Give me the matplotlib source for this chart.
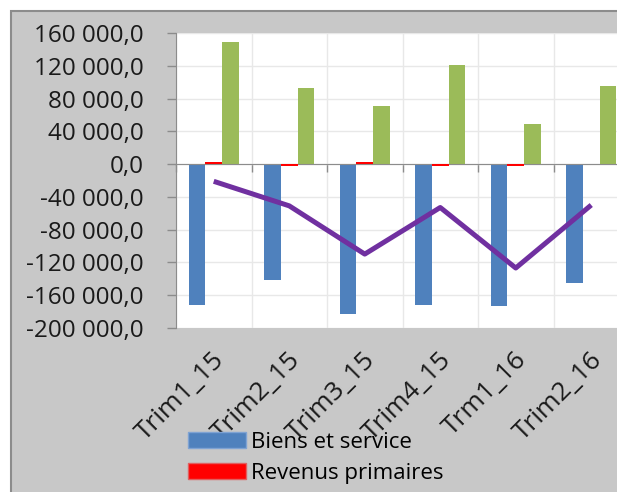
import numpy as np
import matplotlib.pyplot as plt
from matplotlib.patches import Rectangle, Patch
from matplotlib.ticker import FuncFormatter, MultipleLocator
import matplotlib.transforms as mtransforms

plt.rcParams['font.family'] = ['Open Sans', 'DejaVu Sans']

# data
trimestres = ["Trim1_15", "Trim2_15", "Trim3_15", "Trim4_15", "Trm1_16", "Trim2_16"]
biens_services = [-172000, -142000, -183000, -172000, -174000, -145000]
revenus_primaires = [2500, -2500, 2500, -2500, -2500, 500]
revenus_secondaires = [149000, 93000, 71000, 121000, 49000, 95000]
solde = [-21000, -51000, -110000, -53000, -127000, -50000]

blue = "#4F81BD"
red = "#FF0000"
green = "#9BBB59"
purple = "#7030A0"
grey_bg = "#C8C8C8"


def fr_format(v, pos):
    s = "{:,.1f}".format(abs(v)).replace(",", " ").replace(".", ",")
    if v < 0:
        s = "-" + s
    return s


fig = plt.figure(figsize=(6.17, 4.92), dpi=100)
fig.patch.set_facecolor("white")

# grey chart area with its border (runs off the right and bottom edges)
fig.patches.append(Rectangle((11 / 617, -0.1), 1.2, 1 - 11 / 492 + 0.1,
                             transform=fig.transFigure, facecolor=grey_bg,
                             edgecolor="#8C8C8C", lw=1.5, zorder=-1))

ax = fig.add_axes([176 / 617, 1 - 327.7 / 492, 453 / 617, 294.4 / 492])
ax.set_facecolor("white")

x = np.arange(len(trimestres))
w = 0.22
ax.bar(x - w, biens_services, w, color=blue, label="Biens et service", zorder=3)
ax.bar(x, revenus_primaires, w, color=red, label="Revenus primaires", zorder=6)
ax.bar(x + w, revenus_secondaires, w, color=green, zorder=3)
ax.plot(x, solde, color=purple, lw=3.6, zorder=4, solid_capstyle="butt")

ax.set_xlim(-0.5, len(trimestres) - 0.5)
ax.set_ylim(-200000, 160000)
ax.yaxis.set_major_locator(MultipleLocator(40000))
ax.yaxis.set_major_formatter(FuncFormatter(fr_format))

ax.set_xticks(np.arange(len(trimestres) + 1) - 0.5)
ax.tick_params(axis="x", labelbottom=False, length=6, width=1, color="#8C8C8C", direction="out")
ax.tick_params(axis="y", length=6.5, width=1, color="#8C8C8C", pad=17, labelsize=17.5,
               labelcolor="#1a1a1a")
ax.grid(True, color="#E8E8E8", lw=1, zorder=0)

for side in ["top", "right"]:
    ax.spines[side].set_visible(False)
ax.spines["left"].set_color("#8C8C8C")
ax.spines["bottom"].set_position(("data", 0))
ax.spines["bottom"].set_color("#8C8C8C")
ax.spines["bottom"].set_zorder(5)

# category labels along the bottom of the plot area
sec = ax.secondary_xaxis("bottom")
sec.set_xticks(x, trimestres)
sec.tick_params(length=0, pad=14, labelsize=19, labelcolor="#1a1a1a")
sec.spines["bottom"].set_visible(False)
offset = mtransforms.ScaledTranslation(-2 / 100, 0, fig.dpi_scale_trans)
for lbl in sec.get_xticklabels():
    lbl.set_rotation(45)
    lbl.set_rotation_mode("anchor")
    lbl.set_ha("right")
    lbl.set_va("top")
    lbl.set_transform(lbl.get_transform() + offset)

handles = [Patch(facecolor=blue, edgecolor="#7FA3D3", label="Biens et service"),
           Patch(facecolor=red, edgecolor="#E06060", label="Revenus primaires")]
fig.legend(handles=handles, loc="upper left", bbox_to_anchor=(170 / 617, 1 - 414 / 492),
           frameon=False, fontsize=16, handlelength=2.6, handleheight=0.7,
           handletextpad=0.25, labelspacing=0.45, borderpad=0.3)

fig.savefig("out.png", dpi=100)
